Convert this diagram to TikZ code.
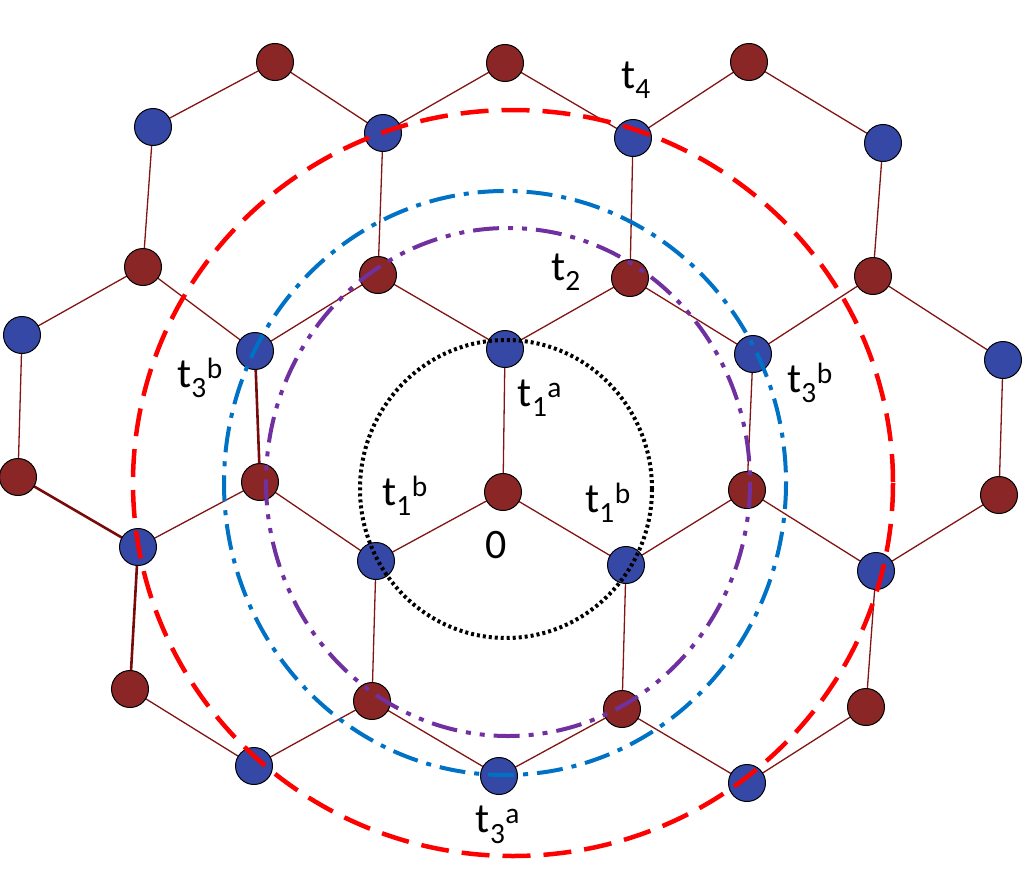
\documentclass[tikz,border=0pt]{standalone}
\usepackage{fontspec}
\setmainfont{Carlito}
\definecolor{nbrown}{RGB}{138,38,38}
\definecolor{nblue}{RGB}{53,72,165}
\definecolor{bondc}{RGB}{130,20,20}
\definecolor{tbondc}{RGB}{120,10,10}
\definecolor{ringblue}{RGB}{0,114,198}
\definecolor{ringpurple}{RGB}{112,48,160}
\begin{document}
\begin{tikzpicture}[x=1pt,y=-1pt,
  br/.style={circle,draw=black,line width=1pt,fill=nbrown,minimum width=36pt,minimum height=37pt,inner sep=0pt},
  bl/.style={circle,draw=black,line width=1pt,fill=nblue,minimum width=36pt,minimum height=37pt,inner sep=0pt},
  bond/.style={draw=bondc,line width=1.3pt},
  tbond/.style={draw=tbondc,line width=2.6pt},
  lab/.style={font=\fontsize{42}{46}\selectfont,inner sep=0pt}]
\useasboundingbox (0,0) rectangle (1025,875);
% brown nodes
\coordinate (P1) at (275,62); \coordinate (P2) at (505,63); \coordinate (P3) at (749,62);
\coordinate (P4) at (143,267); \coordinate (P5) at (378,275); \coordinate (P6) at (630,278); \coordinate (P7) at (873,276);
\coordinate (P8) at (18,477); \coordinate (P9) at (260,482); \coordinate (P10) at (503,492); \coordinate (P11) at (747,490); \coordinate (P12) at (999,495);
\coordinate (P13) at (130,689); \coordinate (P14) at (372,701); \coordinate (P15) at (622,709); \coordinate (P16) at (866,707);
% blue nodes
\coordinate (B1) at (153,127); \coordinate (B2) at (383,133); \coordinate (B3) at (633,138); \coordinate (B4) at (883,143);
\coordinate (B5) at (22,335); \coordinate (B6) at (255,351); \coordinate (B7) at (505,349); \coordinate (B8) at (753,354); \coordinate (B9) at (1003,360);
\coordinate (B10) at (138,547); \coordinate (B11) at (376,561); \coordinate (B12) at (626,565); \coordinate (B13) at (876,571);
\coordinate (B14) at (254,766); \coordinate (B15) at (499,776); \coordinate (B16) at (747,783);
% bonds
\path[bond] (B1)--(P1)--(B2)--(P2)--(B3)--(P3)--(B4);
\path[bond] (B1)--(P4) (B2)--(P5) (B3)--(P6) (B4)--(P7);
\path[bond] (B5)--(P4)--(B6)--(P5)--(B7)--(P6)--(B8)--(P7)--(B9);
\path[bond] (B5)--(P8) (B7)--(P10) (B8)--(P11) (B9)--(P12);
\path[tbond] (B6)--(P9);
\path[tbond] (P8)--(B10) (B10)--(P13);
\path[bond] (B10)--(P9)--(B11)--(P10)--(B12)--(P11)--(B13)--(P12);
\path[bond] (B11)--(P14) (B12)--(P15) (B13)--(P16);
\path[bond] (P13)--(B14)--(P14)--(B15)--(P15)--(B16)--(P16);
\foreach \i in {1,...,16} {\node[br] (p\i) at (P\i) {};}
\foreach \i in {1,...,16} {\node[bl] (b\i) at (B\i) {};}
% circles
\draw[black,line width=4pt,dash pattern=on 3pt off 3pt] (506,489) ellipse [x radius=146,y radius=149];
\draw[ringblue,line width=4pt,dash pattern=on 26pt off 9pt on 5pt off 9pt] (505,483) ellipse [x radius=281,y radius=292];
\draw[ringpurple,line width=4pt,dash pattern=on 26pt off 9pt on 5pt off 9pt on 5pt off 9pt] (508,482) ellipse [x radius=242,y radius=254];
\draw[red,line width=4.5pt,dash pattern=on 28pt off 13pt] (513,483) ellipse [x radius=380,y radius=373];
% labels
\node[lab] (l4) at (636,80) {t\textsubscript{4}};
\node[lab] (l2) at (566,272) {t\textsubscript{2}};
\node[lab] (l3bl) at (200,378) {t\textsubscript{3}\textsuperscript{b}};
\node[lab] (l3br) at (810,383) {t\textsubscript{3}\textsuperscript{b}};
\node[lab] (l1a) at (540,398) {t\textsubscript{1}\textsuperscript{a}};
\node[lab] (l1bl) at (405,496) {t\textsubscript{1}\textsuperscript{b}};
\node[lab] (l1br) at (608,503) {t\textsubscript{1}\textsuperscript{b}};
\node[lab] (l0) at (496,545) {0};
\node[lab] (l3a) at (498,825) {t\textsubscript{3}\textsuperscript{a}};
\end{tikzpicture}
\end{document}
